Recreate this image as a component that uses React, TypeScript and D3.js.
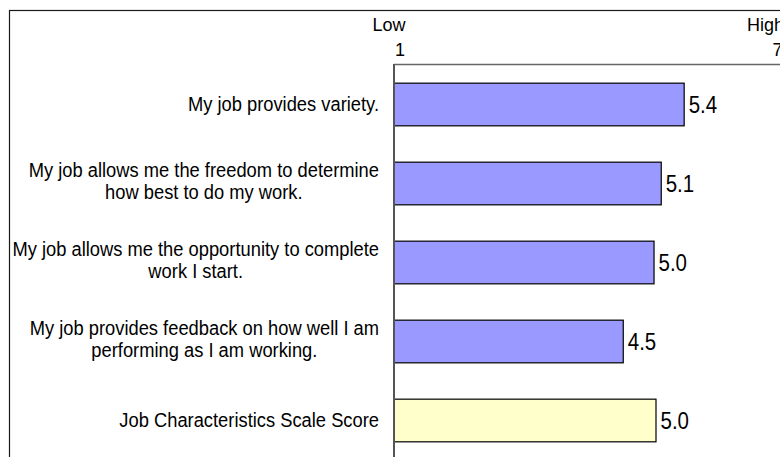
import React, { useEffect, useRef } from "react";
import * as d3 from "d3";

const categories = [
  "My job provides variety.",
  "My job allows me the freedom to determine\nhow best to do my work.",
  "My job allows me the opportunity to complete\nwork I start.",
  "My job provides feedback on how well I am\nperforming as I am working.",
  "Job Characteristics Scale Score",
];
const values = [5.43, 5.08, 4.97, 4.5, 5.0];
const isScaleScore = [false, false, false, false, true];
const axisDomain = [1, 7];
const axisWords = ["Low", "High"];
const axisTicks = ["1", "7"];

const W = 780;
const H = 457;
const SX = 0.935;
const VSX = 0.89;
const FONT = "'Liberation Sans', Arial, sans-serif";

export default function App() {
  const ref = useRef<SVGSVGElement | null>(null);

  useEffect(() => {
    const svg = d3.select(ref.current);
    svg.selectAll("*").remove();

    const x = d3.scaleLinear().domain(axisDomain).range([394, 787]);
    const y = d3
      .scaleBand<string>()
      .domain(categories)
      .range([65, 460])
      .paddingInner(0.46)
      .paddingOuter(0.23);

    // outer chart border
    svg
      .append("rect")
      .attr("x", 9.5)
      .attr("y", 10.5)
      .attr("width", W + 20)
      .attr("height", H + 20)
      .attr("fill", "white")
      .attr("stroke", "#1a1a1a")
      .attr("stroke-width", 1.2);

    // bars
    svg
      .append("g")
      .selectAll("rect")
      .data(values)
      .join("rect")
      .attr("x", x(axisDomain[0]))
      .attr("y", (_, i) => y(categories[i])!)
      .attr("width", (d) => x(d) - x(axisDomain[0]))
      .attr("height", y.bandwidth())
      .attr("fill", (_, i) => (isScaleScore[i] ? "#FFFFCC" : "#9999FF"))
      .attr("stroke", "#000")
      .attr("stroke-width", 1.2);

    // value labels
    svg
      .append("g")
      .selectAll("text")
      .data(values)
      .join("text")
      .attr(
        "transform",
        (d, i) =>
          `translate(${x(d) + 4.5},${y(categories[i])! + y.bandwidth() / 2 + 8.5}) scale(${VSX},1)`
      )
      .attr("font-family", FONT)
      .attr("font-size", 23)
      .attr("fill", "#000")
      .text((d) => d3.format(".1f")(d));

    // axis lines
    svg
      .append("line")
      .attr("x1", x(axisDomain[0]))
      .attr("x2", W + 10)
      .attr("y1", 64.5)
      .attr("y2", 64.5)
      .attr("stroke", "#666")
      .attr("stroke-width", 1.6);
    svg
      .append("line")
      .attr("x1", x(axisDomain[0]))
      .attr("x2", x(axisDomain[0]))
      .attr("y1", 64)
      .attr("y2", H + 10)
      .attr("stroke", "#555")
      .attr("stroke-width", 2);

    // axis end labels
    const tg = svg.append("g").attr("font-family", FONT).attr("font-size", 18).attr("fill", "#000");
    tg.append("text")
      .attr("x", x(axisDomain[0]) - 5)
      .attr("y", 30.5)
      .attr("text-anchor", "middle")
      .text(axisWords[0]);
    tg.append("text")
      .attr("x", x(axisDomain[0]) + 6)
      .attr("y", 55.5)
      .attr("text-anchor", "middle")
      .text(axisTicks[0]);
    tg.append("text")
      .attr("x", x(axisDomain[1]) - 40)
      .attr("y", 30.5)
      .attr("text-anchor", "start")
      .text(axisWords[1]);
    tg.append("text")
      .attr("x", x(axisDomain[1]) - 14.5)
      .attr("y", 55.5)
      .attr("text-anchor", "start")
      .text(axisTicks[1]);

    // category labels
    const rightEdge = x(axisDomain[0]) - 15;
    const lg = svg.append("g").attr("font-family", FONT).attr("font-size", 19.6).attr("fill", "#000");
    categories.forEach((cat) => {
      const lines = cat.split("\n");
      const c = y(cat)! + y.bandwidth() / 2;
      const nodes = lines.map((ln, j) =>
        lg
          .append("text")
          .attr("text-anchor", "middle")
          .attr("data-b", c + 6.5 - (lines.length - 1) * 13.5 + j * 22.5)
          .text(ln)
      );
      const maxW = d3.max(nodes, (n) => (n.node() as SVGTextElement).getComputedTextLength() * SX) || 0;
      const cx = rightEdge - maxW / 2;
      nodes.forEach((n) => {
        n.attr("transform", `translate(${cx},${n.attr("data-b")}) scale(${SX},1)`);
      });
    });
  }, []);

  return (
    <svg
      ref={ref}
      width={W}
      height={H}
      style={{ position: "absolute", left: 0, top: 0, display: "block", background: "white" }}
    />
  );
}
